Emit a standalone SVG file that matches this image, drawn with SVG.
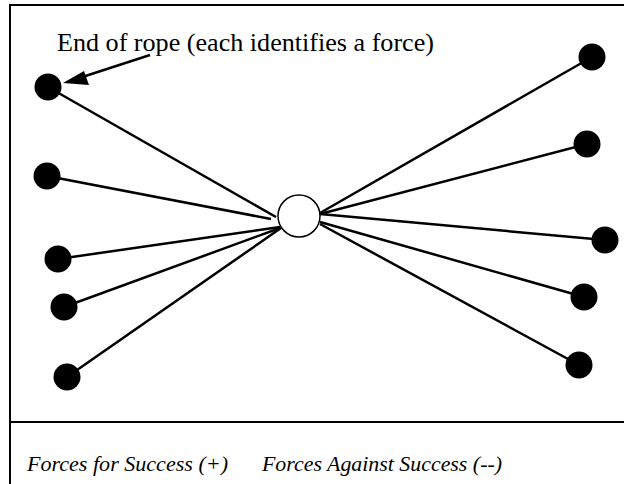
<svg xmlns="http://www.w3.org/2000/svg" width="624" height="484" viewBox="0 0 624 484">
<style>
.frame{fill:none;stroke:#000;stroke-width:2}
.rope{stroke:#000;stroke-width:2.5}
.dot{fill:#000}
.lbl{font-family:"Liberation Serif","Times New Roman",serif;fill:#000}
.cap{font-size:25px}
.it{font-style:italic;font-size:22px}
</style>
<rect x="10" y="5" width="630" height="500" class="frame"/>
<line x1="10" y1="422" x2="624" y2="422" class="frame"/>
<g id="connectors">
<line class="rope" x1="48" y1="87" x2="276" y2="217"/>
<line class="rope" x1="47" y1="176" x2="271" y2="219"/>
<line class="rope" x1="58" y1="259" x2="280" y2="227"/>
<line class="rope" x1="64" y1="307" x2="280" y2="228"/>
<line class="rope" x1="67" y1="377" x2="281" y2="228"/>
<line class="rope" x1="592" y1="57" x2="320" y2="213"/>
<line class="rope" x1="587" y1="144" x2="320" y2="214"/>
<line class="rope" x1="605" y1="240" x2="320" y2="214"/>
<line class="rope" x1="584" y1="297" x2="320" y2="222"/>
<line class="rope" x1="579" y1="365" x2="320" y2="224"/>
<line x1="150" y1="55" x2="70" y2="81" stroke="#000" stroke-width="2.5"/>
<path d="M63,83 L84,71 L89,85 Z" fill="#000"/>
</g>
<g id="center"><circle cx="299" cy="216" r="21" fill="#fff" stroke="#000" stroke-width="1.5"/></g>
<g id="l1"><circle class="dot" cx="48" cy="87" r="13.5"/></g>
<g id="l2"><circle class="dot" cx="47" cy="176" r="13.5"/></g>
<g id="l3"><circle class="dot" cx="58" cy="259" r="13.5"/></g>
<g id="l4"><circle class="dot" cx="64" cy="307" r="13.5"/></g>
<g id="l5"><circle class="dot" cx="67" cy="377" r="13.5"/></g>
<g id="r1"><circle class="dot" cx="592" cy="57" r="13.5"/></g>
<g id="r2"><circle class="dot" cx="587" cy="144" r="13.5"/></g>
<g id="r3"><circle class="dot" cx="605" cy="240" r="13.5"/></g>
<g id="r4"><circle class="dot" cx="584" cy="297" r="13.5"/></g>
<g id="r5"><circle class="dot" cx="579" cy="365" r="13.5"/></g>
<g id="caption"><text class="lbl cap" x="57" y="51" textLength="377" lengthAdjust="spacingAndGlyphs">End of rope (each identifies a force)</text></g>
<g id="legend">
<text class="lbl it" x="27" y="471" textLength="201" lengthAdjust="spacingAndGlyphs">Forces for Success (+)</text>
<text class="lbl it" x="262" y="471" textLength="240" lengthAdjust="spacingAndGlyphs">Forces Against Success (--)</text>
</g>
</svg>
